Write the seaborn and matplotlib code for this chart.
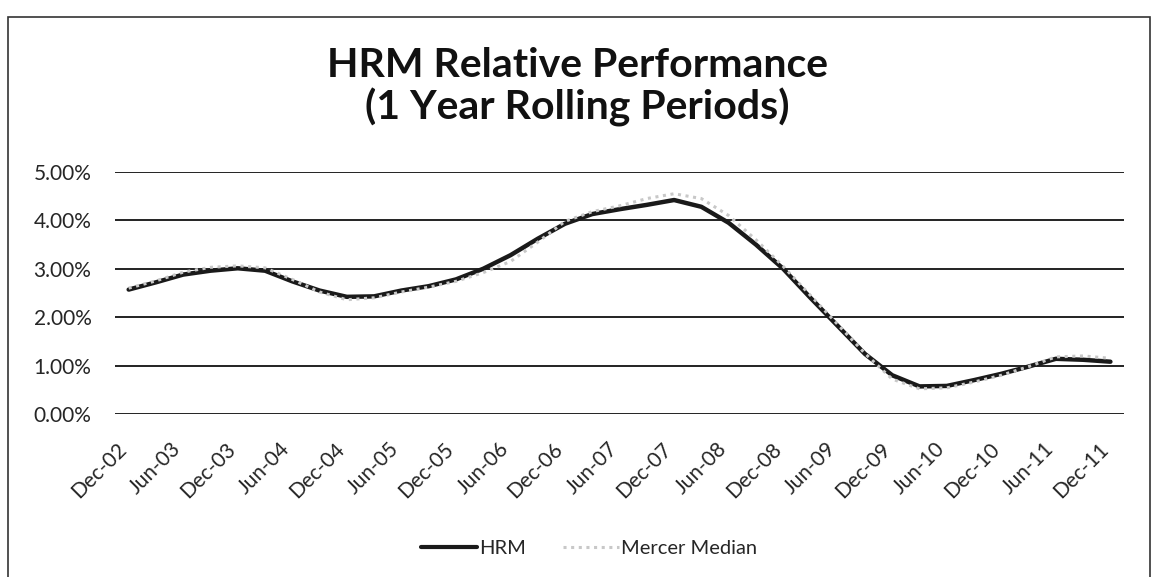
import pandas as pd
import seaborn as sns
import matplotlib.pyplot as plt
from matplotlib.patches import Rectangle
from matplotlib.ticker import PercentFormatter

sns.set_theme(style="white")
plt.rcParams['font.family'] = ['Lato', 'DejaVu Sans']

# Quarterly periods, labels shown every other quarter (semi-annual)
QUARTERS = ["Dec-02", "Mar-03", "Jun-03", "Sep-03", "Dec-03", "Mar-04", "Jun-04", "Sep-04",
            "Dec-04", "Mar-05", "Jun-05", "Sep-05", "Dec-05", "Mar-06", "Jun-06", "Sep-06",
            "Dec-06", "Mar-07", "Jun-07", "Sep-07", "Dec-07", "Mar-08", "Jun-08", "Sep-08",
            "Dec-08", "Mar-09", "Jun-09", "Sep-09", "Dec-09", "Mar-10", "Jun-10", "Sep-10",
            "Dec-10", "Mar-11", "Jun-11", "Sep-11", "Dec-11"]

HRM = [2.57, 2.72, 2.88, 2.96, 3.01, 2.96, 2.74, 2.55, 2.42, 2.43, 2.55, 2.64, 2.78,
       3.00, 3.28, 3.62, 3.93, 4.13, 4.23, 4.32, 4.42, 4.28, 3.95, 3.50, 3.00, 2.40,
       1.82, 1.24, 0.80, 0.57, 0.58, 0.70, 0.83, 0.98, 1.14, 1.12, 1.08]

MERCER = [2.60, 2.75, 2.93, 3.03, 3.06, 3.02, 2.78, 2.52, 2.36, 2.40, 2.52, 2.62, 2.74,
          2.92, 3.15, 3.55, 3.98, 4.18, 4.30, 4.45, 4.55, 4.45, 4.10, 3.60, 3.05, 2.45,
          1.85, 1.25, 0.72, 0.52, 0.54, 0.66, 0.80, 0.98, 1.18, 1.20, 1.15]

SERIES = ["HRM", "Mercer Median"]
COLORS = {"HRM": "#1a1a1a", "Mercer Median": "#c8c8c8"}

df = pd.DataFrame({
    "idx": list(range(len(QUARTERS))) * 2,
    "value": [v / 100 for v in HRM] + [v / 100 for v in MERCER],
    "series": ["HRM"] * len(HRM) + ["Mercer Median"] * len(MERCER),
})

fig = plt.figure(figsize=(11.55, 5.77), dpi=100)
ax = fig.add_axes([0.0996, 0.2825, 0.8736, 0.4195])

sns.lineplot(data=df, x="idx", y="value", hue="series", style="series",
             palette=COLORS, dashes={"HRM": "", "Mercer Median": (1, 1.5)},
             linewidth=3, ax=ax, legend=False)
ax.lines[0].set_linewidth(3.2)
ax.lines[1].set_linewidth(2.2)

# category axis: points sit between tick marks
ax.set_xlim(-0.5, len(QUARTERS) - 0.5)
ax.set_ylim(0, 0.05)
ax.set_yticks([0, 0.01, 0.02, 0.03, 0.04, 0.05])
ax.yaxis.set_major_formatter(PercentFormatter(1.0, decimals=2))
# rotated labels end a little left of their category (as Excel draws them)
ax.set_xticks([i - 0.45 for i in range(0, len(QUARTERS), 2)])
ax.set_xticklabels(QUARTERS[::2], rotation=45, ha="right", rotation_mode="anchor")
ax.tick_params(axis="y", labelsize=15, pad=17, length=0)
ax.tick_params(axis="x", labelsize=15, pad=18, length=0)
ax.grid(axis="y", color="#222222", linewidth=1.4)
ax.set_axisbelow(True)
for s in ax.spines.values():
    s.set_visible(False)
ax.set_xlabel("")
ax.set_ylabel("")

fig.text(0.5, 0.887, "HRM Relative Performance", ha="center", va="center",
         fontsize=29.5, fontweight="bold", color="#111111")
fig.text(0.5, 0.813, "(1 Year Rolling Periods)", ha="center", va="center",
         fontsize=29.5, fontweight="bold", color="#111111")

handles = [plt.Line2D([], [], color=COLORS["HRM"], lw=3),
           plt.Line2D([], [], color=COLORS["Mercer Median"], lw=2.2, ls=(0, (1, 1.5)))]
fig.legend(handles, SERIES, loc="center", bbox_to_anchor=(0.51, 0.05), ncol=2,
           frameon=False, fontsize=14.5, handlelength=2.8, handletextpad=0.1,
           columnspacing=1.8)

fig.patches.append(Rectangle((0.007, -0.01), 0.989, 0.98, transform=fig.transFigure,
                             fill=False, edgecolor="#333333", linewidth=1.2))

fig.savefig("out.png", dpi=100, facecolor="white")
